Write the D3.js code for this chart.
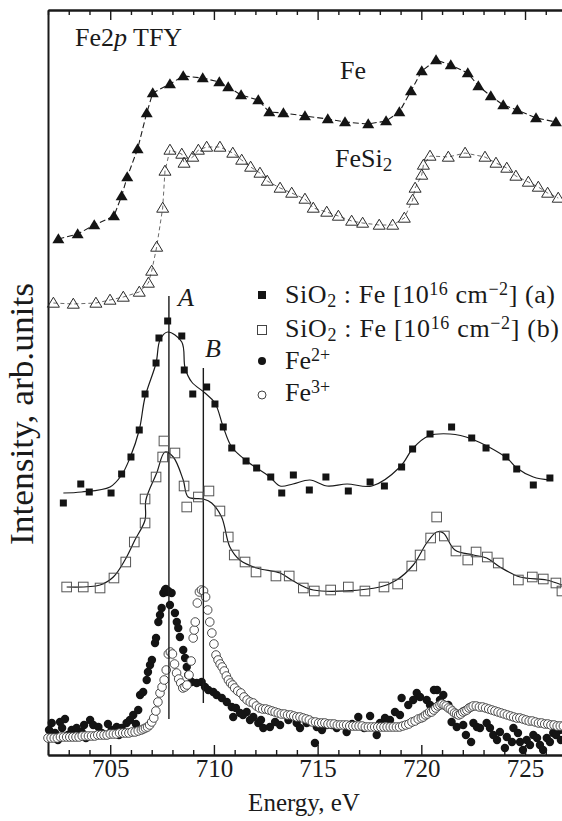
<!DOCTYPE html>
<html><head><meta charset="utf-8">
<script src="https://cdn.jsdelivr.net/npm/d3@7"></script>
<style>
body{margin:0;background:#fff}
svg{display:block}
text{font-family:"Liberation Serif","Times New Roman",serif;fill:#1a1a1a}
</style>
</head><body>
<svg id="c" width="562" height="821" font-family="Liberation Serif"></svg>
<script>
// ---------- axis ticks ----------
const majorTicks = [705, 710, 715, 720, 725];
const minorTicks = [702,703,704,706,707,708,709,711,712,713,714,716,717,718,719,721,722,723,724,726];

// ---------- Fe (filled triangles) ----------
const feE = [702.50,703.43,704.23,705.18,705.55,705.82,706.32,706.76,707.05,707.88,708.52,709.46,710.26,710.69,711.31,712.14,712.67,713.35,714.39,715.49,716.32,717.44,718.30,718.94,719.50,720.02,720.71,721.42,722.24,722.75,723.35,723.95,724.63,725.53,726.49];
const feI = [516,521,530,539,559,578,606,642,662,671,679,677,673,668,660,655,643,642,639,636,633,631,634,643,664,684,695,690,682,669,659,650,645,637,633];

// ---------- FeSi2 (open triangles) ----------
const fesiE = [702.26,703.22,704.31,704.99,705.63,706.40,706.84,707.00,707.24,707.53,707.64,707.88,708.45,708.56,708.98,709.25,709.65,710.29,710.91,711.34,711.77,712.22,712.57,713.19,713.75,714.39,714.79,715.44,716.00,716.64,717.17,717.97,718.62,719.18,719.58,719.70,720.02,720.10,720.42,721.30,722.11,723.07,723.60,724.12,724.56,725.16,725.64,726.09,726.60];
const fesiI = [452,451,452,455,458,463,472,484,508,547,584,605,601,592,598,605,608,608,602,595,588,582,574,567,562,556,547,543,539,534,532,530,530,537,555,567,580,590,599,598,602,598,592,587,579,573,568,562,557];

// ---------- SiO2:Fe (a) filled squares + fit ----------
const aE = [702.74,703.58,703.99,705.04,705.55,706.00,706.40,706.68,707.21,707.35,707.77,708.45,708.57,708.98,709.65,710.05,710.45,710.86,711.55,712.06,712.74,713.27,713.83,714.60,715.40,716.48,717.53,718.22,719.05,719.58,720.42,721.46,722.43,723.12,724.08,724.60,725.40,726.20];
const aI = [252,271,263,262,281,298,325,361,392,417,434,419,385,361,368,351,328,307,294,287,278,262,280,265,278,264,273,269,288,306,321,328,317,307,298,286,270,277];
const aFitE = [702.74,703.62,704.99,705.55,705.95,706.40,706.68,707.21,707.40,707.77,708.45,708.61,708.93,709.57,710.05,710.45,710.86,711.58,712.70,713.19,713.81,714.63,715.45,716.42,717.62,718.97,719.61,720.34,721.38,722.43,724.12,724.60,725.40,726.20];
const aFitI = [262,263,268,280,297,325,358,392,415,423,413,387,373,362,352,328,308,294,278,269,271,275,269,271,269,288,307,319,321,316,297,287,278,275];

// ---------- SiO2:Fe (b) open squares + fit ----------
const bE = [702.90,703.70,704.51,705.18,705.75,706.16,706.68,706.68,707.21,707.53,707.59,708.12,708.56,708.69,709.25,709.76,710.29,710.69,710.98,711.50,712.03,712.99,713.63,714.31,714.84,715.63,716.48,717.28,718.20,718.86,719.54,719.94,720.45,720.74,721.11,721.67,722.24,722.64,723.18,723.71,724.68,725.35,725.88,726.49,726.78];
const bI = [168,168,167,177,193,213,232,256,278,298,314,302,269,248,258,264,244,218,200,193,183,179,179,167,164,165,168,164,168,171,189,200,217,238,219,204,195,203,198,192,175,178,176,172,164];
const bFitE = [702.90,704.51,705.15,705.71,706.19,706.68,706.72,707.24,707.64,708.04,708.52,708.76,709.49,709.89,710.37,710.77,711.25,712.06,713.19,713.83,714.79,718.01,718.81,719.61,720.26,720.74,721.06,721.62,722.51,723.15,723.79,724.76,726.04,726.78];
const bFitI = [168,170,178,195,215,235,255,282,303,298,275,258,256,252,238,208,195,187,182,174,165,168,175,190,212,223,222,205,200,197,188,178,175,170];

// ---------- Fe2+ (filled circles) ----------
const fe2E = [702.18,702.34,702.58,702.82,703.14,703.38,703.62,704.03,704.18,704.43,704.59,704.83,705.07,705.31,705.55,705.79,705.95,706.11,706.35,706.44,706.59,706.76,706.92,707.16,707.21,707.32,707.40,707.48,707.56,707.64,707.72,707.96,707.88,708.12,708.21,708.28,708.36,708.52,708.61,708.69,708.76,708.93,709.17,709.41,709.57,709.73,709.97,710.13,710.38,710.62,710.86,710.93,711.26,711.58,711.90,712.14,712.38,712.70,713.19,713.59,713.99,714.47,714.96,715.44,715.92,716.40,716.96,717.53,717.85,718.01,718.49,718.97,719.05,719.37,719.61,719.78,720.26,720.61,721.06,721.30,721.46,721.71,722.02,722.51,722.83,723.15,723.47,723.79,724.12,724.44,724.76,725.08,725.40,725.72,726.05,726.36,726.69,714.87,702.05,702.48,702.96,703.83,702.68,703.74,704.89,705.42,706.24,707.01,706.82,711.06,711.40,711.74,712.27,712.95,714.15,714.63,715.21,715.69,716.66,717.24,718.25,718.73,719.94,720.76,720.90,720.42,722.15,722.40,722.68,723.31,723.65,724.03,724.37,724.66,724.90,725.24,725.58,725.87,726.20,726.49,726.73,707.80,707.68];
const fe2I = [32,22,33,36,25,27,23,35,30,28,22,20,25,28,27,32,35,40,45,60,63,75,90,112,117,133,140,147,162,165,163,162,150,142,133,127,118,105,97,88,80,73,72,73,68,65,63,60,57,53,48,38,42,43,38,32,27,28,30,35,32,32,28,30,27,23,38,39,20,32,35,40,57,50,55,62,55,65,60,50,33,28,30,32,27,32,20,23,18,27,13,15,20,10,17,22,25,12,25,15,20,17,27,30,31,20,31,95,83,47,40,35,35,33,27,33,25,30,31,27,37,43,58,65,55,50,20,13,28,27,15,7,13,22,5,10,17,5,13,20,15,164,166];

// ---------- Fe3+ (open circles) ----------
const fe3E = [
702.0,702.15,702.3,702.45,702.6,702.75,702.9,703.05,703.2,703.35,
703.5,703.65,703.8,703.95,704.1,704.25,704.4,704.55,704.7,704.85,
705.0,705.15,705.3,705.45,705.6,705.75,705.9,706.05,706.2,706.35,
706.5,706.6,706.7,706.8,706.9,707.0,707.1,707.2,707.3,707.4,
707.5,707.6,707.7,707.8,707.9,708.0,708.1,708.2,708.3,708.4,
708.5,708.6,708.7,708.8,708.9,709.0,709.05,709.1,709.2,709.3,
709.4,709.5,709.6,709.7,709.8,709.9,710.0,710.1,710.2,710.3,
710.4,710.5,710.6,710.7,710.8,710.9,711.0,711.15,711.3,711.45,
711.6,711.75,711.9,712.05,712.2,712.35,712.5,712.65,712.8,712.95,
713.1,713.25,713.4,713.55,713.7,713.85,714.0,714.15,714.3,714.45,
714.6,714.75,714.9,715.05,715.2,715.35,715.5,715.65,715.8,715.95,
716.1,716.25,716.4,716.55,716.7,716.85,717.0,717.15,717.3,717.45,
717.6,717.75,717.9,718.05,718.2,718.35,718.5,718.65,718.8,718.95,
719.1,719.25,719.4,719.55,719.7,719.85,720.0,720.1,720.2,720.3,
720.4,720.5,720.6,720.7,720.8,720.9,721.0,721.1,721.2,721.3,
721.4,721.5,721.6,721.7,721.8,721.9,722.0,722.1,722.2,722.3,
722.4,722.5,722.65,722.8,722.95,723.1,723.25,723.4,723.55,723.7,
723.85,724.0,724.15,724.3,724.45,724.6,724.75,724.9,725.05,725.2,
725.35,725.5,725.65,725.8,725.95,726.1,726.25,726.4,726.55,726.7,
726.85];
const fe3I = [
17,17,17,17,18,18,18,18,18,18,
18,19,19,19,19,19,20,20,20,20,
21,21,21,22,22,22,22,23,23,24,
25,26,27,28,30,33,37,44,53,62,
68,75,85,101,103,101,91,82,76,72,
67,68,70,80,94,117,125,133,152,163,
165,164,158,145,133,122,111,100,95,91,
88,84,79,75,72,70,67,64,62,58,
55,53,52,49,47,46,46,45,44,43,
42,41,41,40,40,39,38,38,37,36,
35,33,33,32,32,32,31,31,31,30,
30,30,30,29,29,29,29,29,28,28,
28,28,28,28,28,28,28,28,28,28,
29,30,31,33,34,36,37,38,40,41,
43,43,45,47,49,50,51,50,49,47,
46,44,42,41,40,41,43,44,45,47,
48,49,49,48,48,47,46,45,44,43,
42,41,40,39,38,37,37,36,35,34,
34,33,32,32,31,31,30,30,29,29,
29];

// ---------- peak markers ----------
const peakNames = ["A", "B"];
const peakE = [707.83, 709.49];
const peakTopI = [459, 387];
const peakBottomI = [36, 52];

// ---------- drawing ----------
const svg = d3.select("#c");
const x = d3.scaleLinear().domain([702, 727]).range([48, 566.5]);
const y = d3.scaleLinear().domain([0, 745]).range([755, 10]);
const zip = (a, b) => a.map((v, i) => [v, b[i]]);
const px = d => x(d[0]), py = d => y(d[1]);

function styleAxis(g){
  g.attr("font-family", null).attr("font-size", null);
  g.select(".domain").attr("stroke", "#1a1a1a").attr("stroke-width", 2);
  g.selectAll(".tick line").attr("stroke", "#1a1a1a").attr("stroke-width", 1.4);
  g.selectAll(".tick text").attr("font-size", 25).attr("fill", "#1a1a1a");
}
svg.append("g").attr("transform", "translate(0,755)")
  .call(d3.axisBottom(x).tickValues(minorTicks).tickSize(-5).tickSizeOuter(0).tickFormat(""))
  .call(styleAxis);
svg.append("g").attr("transform", "translate(0,755)")
  .call(d3.axisBottom(x).tickValues(majorTicks).tickSize(-10).tickSizeOuter(0).tickPadding(4).tickFormat(d3.format("d")))
  .call(styleAxis);
svg.append("g").attr("transform", "translate(0,10)")
  .call(d3.axisTop(x).tickValues(minorTicks).tickSize(-5).tickSizeOuter(0).tickFormat(""))
  .call(styleAxis);
svg.append("g").attr("transform", "translate(0,10)")
  .call(d3.axisTop(x).tickValues(majorTicks).tickSize(-10).tickSizeOuter(0).tickFormat(""))
  .call(styleAxis);
svg.append("g").attr("transform", "translate(48,0)")
  .call(d3.axisLeft(y).tickValues([]).tickSizeOuter(0))
  .call(styleAxis);

// Fe2+ filled circles
svg.append("g").selectAll("circle").data(zip(fe2E, fe2I)).join("circle")
  .attr("cx", px).attr("cy", py).attr("r", 4.2).attr("fill", "#141414");
// Fe3+ open circles
svg.append("g").selectAll("circle").data(zip(fe3E, fe3I)).join("circle")
  .attr("cx", px).attr("cy", py).attr("r", 4.3)
  .attr("fill", "#fff").attr("stroke", "#3a3a3a").attr("stroke-width", 0.9);

// vertical peak lines
peakE.forEach((e, i) => {
  svg.append("line").attr("x1", x(e)).attr("x2", x(e))
    .attr("y1", y(peakTopI[i])).attr("y2", y(peakBottomI[i]))
    .attr("stroke", "#1a1a1a").attr("stroke-width", 1.4);
});

// Fe line + triangles
const line = d3.line().x(px).y(py);
svg.append("path").datum(zip(feE, feI)).attr("d", line)
  .attr("fill", "none").attr("stroke", "#1a1a1a").attr("stroke-width", 1.1).attr("stroke-dasharray", "6,3");
const tri = "M0,-5.8L6,4.2L-6,4.2Z";
svg.append("g").selectAll("path").data(zip(feE, feI)).join("path")
  .attr("d", tri).attr("transform", d => `translate(${px(d)},${py(d)})`).attr("fill", "#141414");

// FeSi2 line + open triangles
svg.append("path").datum(zip(fesiE, fesiI)).attr("d", line)
  .attr("fill", "none").attr("stroke", "#444").attr("stroke-width", 0.8).attr("stroke-dasharray", "4,3");
svg.append("g").selectAll("path").data(zip(fesiE, fesiI)).join("path")
  .attr("d", tri).attr("transform", d => `translate(${px(d)},${py(d)})`)
  .attr("fill", "none").attr("stroke", "#2a2a2a").attr("stroke-width", 1);

// fit lines
const smooth = d3.line().x(px).y(py).curve(d3.curveCatmullRom.alpha(0.5));
svg.append("path").datum(zip(aFitE, aFitI)).attr("d", smooth)
  .attr("fill", "none").attr("stroke", "#1a1a1a").attr("stroke-width", 1.2);
svg.append("path").datum(zip(bFitE, bFitI)).attr("d", smooth)
  .attr("fill", "none").attr("stroke", "#1a1a1a").attr("stroke-width", 1.2);

// (a) filled squares
svg.append("g").selectAll("rect").data(zip(aE, aI)).join("rect")
  .attr("x", d => px(d) - 3.5).attr("y", d => py(d) - 3.5).attr("width", 7).attr("height", 7)
  .attr("fill", "#141414");
// (b) open squares
svg.append("g").selectAll("rect").data(zip(bE, bI)).join("rect")
  .attr("x", d => px(d) - 4.8).attr("y", d => py(d) - 4.8).attr("width", 9.6).attr("height", 9.6)
  .attr("fill", "none").attr("stroke", "#555").attr("stroke-width", 1);

// ---------- text ----------
function rich(t, parts, small){
  let shift = 0;
  parts.forEach(([s, m]) => {
    const target = m === "sup" ? -8 : m === "sub" ? 4 : 0;
    const ts = t.append("tspan").attr("dy", target - shift).text(s);
    if (m === "sup" || m === "sub") ts.attr("font-size", small || 18);
    if (m === "it") ts.attr("font-style", "italic");
    shift = target;
  });
}
const t1 = svg.append("text").attr("x", 75).attr("y", 46).attr("font-size", 26);
rich(t1, [["Fe2"], ["p", "it"], [" TFY"]]);
svg.append("text").attr("x", 340).attr("y", 79).attr("font-size", 26).text("Fe");
rich(svg.append("text").attr("x", 335).attr("y", 167).attr("font-size", 26), [["FeSi"], ["2", "sub"]], 19);

peakNames.forEach((n, i) => {
  svg.append("text").attr("x", i === 0 ? 178 : 205).attr("y", i === 0 ? 306 : 357)
    .attr("font-size", 26).attr("font-style", "italic").text(n);
});

// legend
const legendRows = [
  [["SiO"], ["2", "sub"], [" : Fe [10"], ["16", "sup"], [" cm"], ["\u22122", "sup"], ["] (a)"]],
  [["SiO"], ["2", "sub"], [" : Fe [10"], ["16", "sup"], [" cm"], ["\u22122", "sup"], ["] (b)"]],
  [["Fe"], ["2+", "sup"]],
  [["Fe"], ["3+", "sup"]]
];
const legendY = [303, 337, 369, 401];
const legendLen = [270, 274, null, null];
legendRows.forEach((r, i) => {
  const t = svg.append("text").attr("x", 285).attr("y", legendY[i]).attr("font-size", 26);
  if (legendLen[i]) t.attr("textLength", legendLen[i]).attr("lengthAdjust", "spacing");
  rich(t, r, 18);
});
svg.append("rect").attr("x", 258).attr("y", 291).attr("width", 8).attr("height", 8).attr("fill", "#141414");
svg.append("rect").attr("x", 257.5).attr("y", 325.5).attr("width", 9).attr("height", 9).attr("fill", "none").attr("stroke", "#444");
svg.append("circle").attr("cx", 262).attr("cy", 361).attr("r", 4).attr("fill", "#141414");
svg.append("circle").attr("cx", 262).attr("cy", 395).attr("r", 4).attr("fill", "none").attr("stroke", "#444");

// axis titles
svg.append("text").attr("x", 304).attr("y", 811).attr("text-anchor", "middle").attr("font-size", 25).text("Energy, eV");
svg.append("text").attr("transform", "translate(33,545) rotate(-90)").attr("font-size", 33)
  .attr("textLength", 262).attr("lengthAdjust", "spacingAndGlyphs").text("Intensity, arb.units");
</script>
</body></html>
